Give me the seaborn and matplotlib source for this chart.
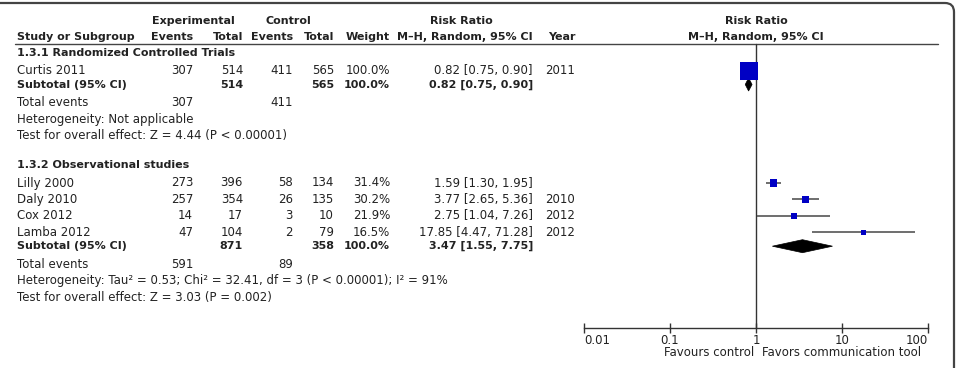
import numpy as np
import pandas as pd
import matplotlib.pyplot as plt
import seaborn as sns
from matplotlib.patches import Polygon, FancyBboxPatch

# ---- data ----
group_titles = ["1.3.1 Randomized Controlled Trials", "1.3.2 Observational studies"]
group_studies = [["Curtis 2011"], ["Lilly 2000", "Daly 2010", "Cox 2012", "Lamba 2012"]]
exp_events = [[307], [273, 257, 14, 47]]
exp_total = [[514], [396, 354, 17, 104]]
ctl_events = [[411], [58, 26, 3, 2]]
ctl_total = [[565], [134, 135, 10, 79]]
weights = [[100.0], [31.4, 30.2, 21.9, 16.5]]
rr = [[0.82], [1.59, 3.77, 2.75, 17.85]]
rr_lo = [[0.75], [1.30, 2.65, 1.04, 4.47]]
rr_hi = [[0.90], [1.95, 5.36, 7.26, 71.28]]
years = [["2011"], ["", "2010", "2012", "2012"]]

sub_exp_total = [514, 871]
sub_ctl_total = [565, 358]
sub_rr = [0.82, 3.47]
sub_lo = [0.75, 1.55]
sub_hi = [0.90, 7.75]
tot_exp_events = [307, 591]
tot_ctl_events = [411, 89]
heterogeneity = ["Heterogeneity: Not applicable",
                 "Heterogeneity: Tau² = 0.53; Chi² = 32.41, df = 3 (P < 0.00001); I² = 91%"]
overall_test = ["Test for overall effect: Z = 4.44 (P < 0.00001)",
                "Test for overall effect: Z = 3.03 (P = 0.002)"]

ticks = [0.01, 0.1, 1, 10, 100]
tick_labels = ["0.01", "0.1", "1", "10", "100"]

# ---- style ----
sns.set_style("white")
plt.rcParams['font.family'] = ['DejaVu Sans']
FS = 8.5      # regular text
FSB = 8       # bold text (DejaVu bold runs wider)
TXT = "#222222"
BLUE = "#0000c4"

W, H = 957, 368
fig = plt.figure(figsize=(W / 100, H / 100), dpi=100)
ax_t = fig.add_axes([0, 0, 1, 1])
ax_t.set_xlim(0, W)
ax_t.set_ylim(H, 0)
ax_t.axis("off")

# forest axes: 0.01 .. 100 spans pixels 584 .. 928
x0, x1 = 584, 928
ax_f = fig.add_axes([x0 / W, 0, (x1 - x0) / W, 1])
ax_f.set_xscale("log")
ax_f.set_xlim(0.01, 100)
ax_f.set_ylim(H, 0)
ax_f.patch.set_alpha(0)

# frame with rounded corner (only top/right visible)
frame = FancyBboxPatch((-20, 3), 974, 400, boxstyle="round,pad=0,rounding_size=9",
                       fill=False, ec="#444444", lw=1.6, transform=ax_t.transData,
                       clip_on=False)
ax_t.add_patch(frame)

# column positions
c_study = 17
c_ee, c_et, c_ce, c_ct, c_w, c_ci, c_yr = 193, 243, 293, 334, 390, 533, 545


def txt(x, y, s, ha="left", bold=False):
    ax_t.text(x, y, s, ha=ha, va="center", fontsize=FSB if bold else FS, color=TXT,
              fontweight="bold" if bold else "normal")


# headers
txt(193, 21, "Experimental", "center", True)
txt(288, 21, "Control", "center", True)
txt(461, 21, "Risk Ratio", "center", True)
txt(c_study, 37, "Study or Subgroup", bold=True)
txt(c_ee, 37, "Events", "right", True)
txt(c_et, 37, "Total", "right", True)
txt(c_ce, 37, "Events", "right", True)
txt(c_ct, 37, "Total", "right", True)
txt(c_w, 37, "Weight", "right", True)
txt(c_ci, 37, "M–H, Random, 95% CI", "right", True)
txt(548, 37, "Year", bold=True)
txt(756, 21, "Risk Ratio", "center", True)
txt(756, 37, "M–H, Random, 95% CI", "center", True)
ax_t.plot([15, 938], [44, 44], color="#444444", lw=1)

# rows
pts = []
y = 53
for g in range(2):
    txt(c_study, y, group_titles[g], bold=True)
    y += 17.5
    for i, name in enumerate(group_studies[g]):
        txt(c_study, y, name)
        txt(c_ee, y, str(exp_events[g][i]), "right")
        txt(c_et, y, str(exp_total[g][i]), "right")
        txt(c_ce, y, str(ctl_events[g][i]), "right")
        txt(c_ct, y, str(ctl_total[g][i]), "right")
        txt(c_w, y, f"{weights[g][i]:.1f}%", "right")
        txt(c_ci, y, f"{rr[g][i]:.2f} [{rr_lo[g][i]:.2f}, {rr_hi[g][i]:.2f}]", "right")
        txt(c_yr, y, years[g][i])
        pts.append(dict(rr=rr[g][i], lo=rr_lo[g][i], hi=rr_hi[g][i],
                        w=weights[g][i], y=y))
        y += 16.4
    y -= 2.4
    txt(c_study, y, "Subtotal (95% CI)", bold=True)
    txt(c_et, y, str(sub_exp_total[g]), "right", True)
    txt(c_ct, y, str(sub_ctl_total[g]), "right", True)
    txt(c_w, y, "100.0%", "right", True)
    txt(c_ci, y, f"{sub_rr[g]:.2f} [{sub_lo[g]:.2f}, {sub_hi[g]:.2f}]", "right", True)
    dh = 6.5
    ax_f.add_patch(Polygon([(sub_lo[g], y), (sub_rr[g], y - dh), (sub_hi[g], y),
                            (sub_rr[g], y + dh)], closed=True, fc="black", ec="black",
                           lw=0.5))
    y += 18
    txt(c_study, y, "Total events")
    txt(c_ee, y, str(tot_exp_events[g]), "right")
    txt(c_ce, y, str(tot_ctl_events[g]), "right")
    y += 16.5
    txt(c_study, y, heterogeneity[g])
    y += 16.5
    txt(c_study, y, overall_test[g])
    y += 30

df = pd.DataFrame(pts)
# square side in pixels from weight, then marker area in pt^2
df["side"] = 18 * (df["w"] / 100) ** 0.75 * 0.72
df["area"] = df["side"] ** 2

ax_f.hlines(df["y"], df["lo"], df["hi"], color="#555555", lw=1.2, zorder=2)
ax_f.axvline(1, ymin=1 - 328 / H, ymax=1 - 44 / H, color="#333333", lw=1, zorder=1)
amin, amax = df["area"].min(), df["area"].max()
sns.scatterplot(data=df, x="rr", y="y", size="area", sizes=(amin, amax),
                size_norm=(amin, amax), marker="s", color=BLUE, linewidth=0,
                legend=False, ax=ax_f, zorder=3)

# axis
for s in ["top", "left", "right"]:
    ax_f.spines[s].set_visible(False)
ax_f.spines["bottom"].set_position(("data", 328))
ax_f.spines["bottom"].set_color("#333333")
ax_f.spines["bottom"].set_linewidth(1)
ax_f.set_yticks([])
ax_f.set_xticks(ticks)
ax_f.set_xticklabels(tick_labels)
ax_f.minorticks_off()
ax_f.tick_params(axis="x", direction="inout", length=7, width=1, color="#333333",
                 labelsize=FS, labelcolor=TXT, pad=1, bottom=True)
labs = ax_f.get_xticklabels()
labs[0].set_ha("left")
labs[-1].set_ha("right")
ax_f.set_xlabel("")
ax_f.set_ylabel("")

txt(754, 352, "Favours control", "right")
txt(762, 352, "Favors communication tool")

fig.savefig("out.png", dpi=100)
